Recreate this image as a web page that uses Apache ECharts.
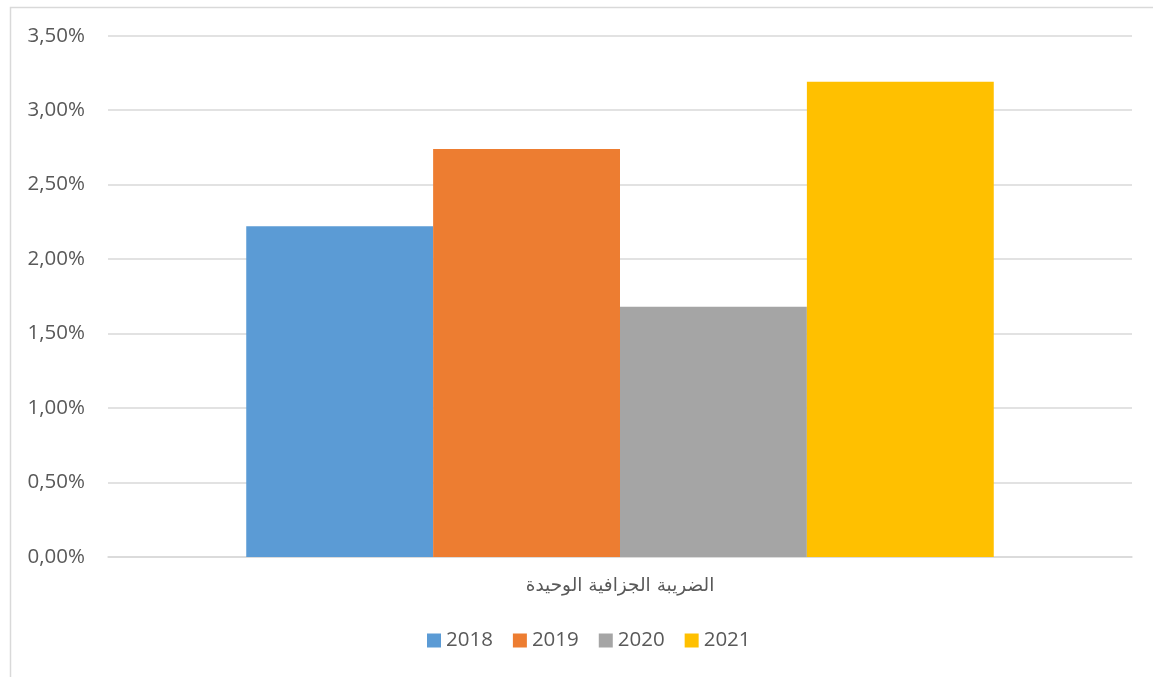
<!DOCTYPE html>
<html><head><meta charset="utf-8">
<script src="https://cdn.jsdelivr.net/npm/echarts@6/dist/echarts.min.js"></script>
<style>html,body{margin:0;padding:0;background:#fff}#c{width:1153px;height:677px}</style>
</head><body><div id="c"></div>
<script>
const categories = ['الضريبة الجزافية الوحيدة'];
const seriesNames = ['2018', '2019', '2020', '2021'];
const v2018 = [2.22];
const v2019 = [2.74];
const v2020 = [1.68];
const v2021 = [3.19];
const seriesValues = [v2018, v2019, v2020, v2021];
const colors = ['#5B9BD5', '#ED7D31', '#A5A5A5', '#FFC000'];

const chart = echarts.init(document.getElementById('c'));
chart.setOption({
  animation: false,
  backgroundColor: '#fff',
  graphic: [{type:'rect', left: 8, top: 5, shape:{width: 1150, height: 680}, style:{fill:'none', stroke:'#D9D9D9', lineWidth:1.5}, silent:true}],
  grid: {left: 108, right: 21, top: 35.7, bottom: 120},
  legend: {
    bottom: 21, left: 422, itemWidth: 14, itemHeight: 14, itemGap: 20,
    icon: 'rect',
    textStyle: {color: '#595959', fontSize: 20.5, fontFamily: 'Open Sans'},
    data: seriesNames
  },
  xAxis: {
    type: 'category', data: categories,
    axisLine: {show: true, lineStyle: {color: '#D9D9D9', width: 1.5}},
    axisTick: {show: false},
    axisLabel: {color: '#595959', fontSize: 18.5, fontFamily: 'DejaVu Sans', margin: 20}
  },
  yAxis: {
    type: 'value', min: 0, max: 3.5, interval: 0.5,
    axisLine: {show: false}, axisTick: {show: false},
    splitLine: {lineStyle: {color: '#D9D9D9', width: 1.5}},
    axisLabel: {color: '#595959', fontSize: 20.5, fontFamily: 'Open Sans', margin: 23,
      formatter: v => v.toFixed(2).replace('.', ',') + '%'}
  },
  series: seriesNames.map((n, i) => ({
    name: n, type: 'bar', data: seriesValues[i],
    itemStyle: {color: colors[i]},
    barGap: '0%', barCategoryGap: '27%'
  }))
});
</script></body></html>
